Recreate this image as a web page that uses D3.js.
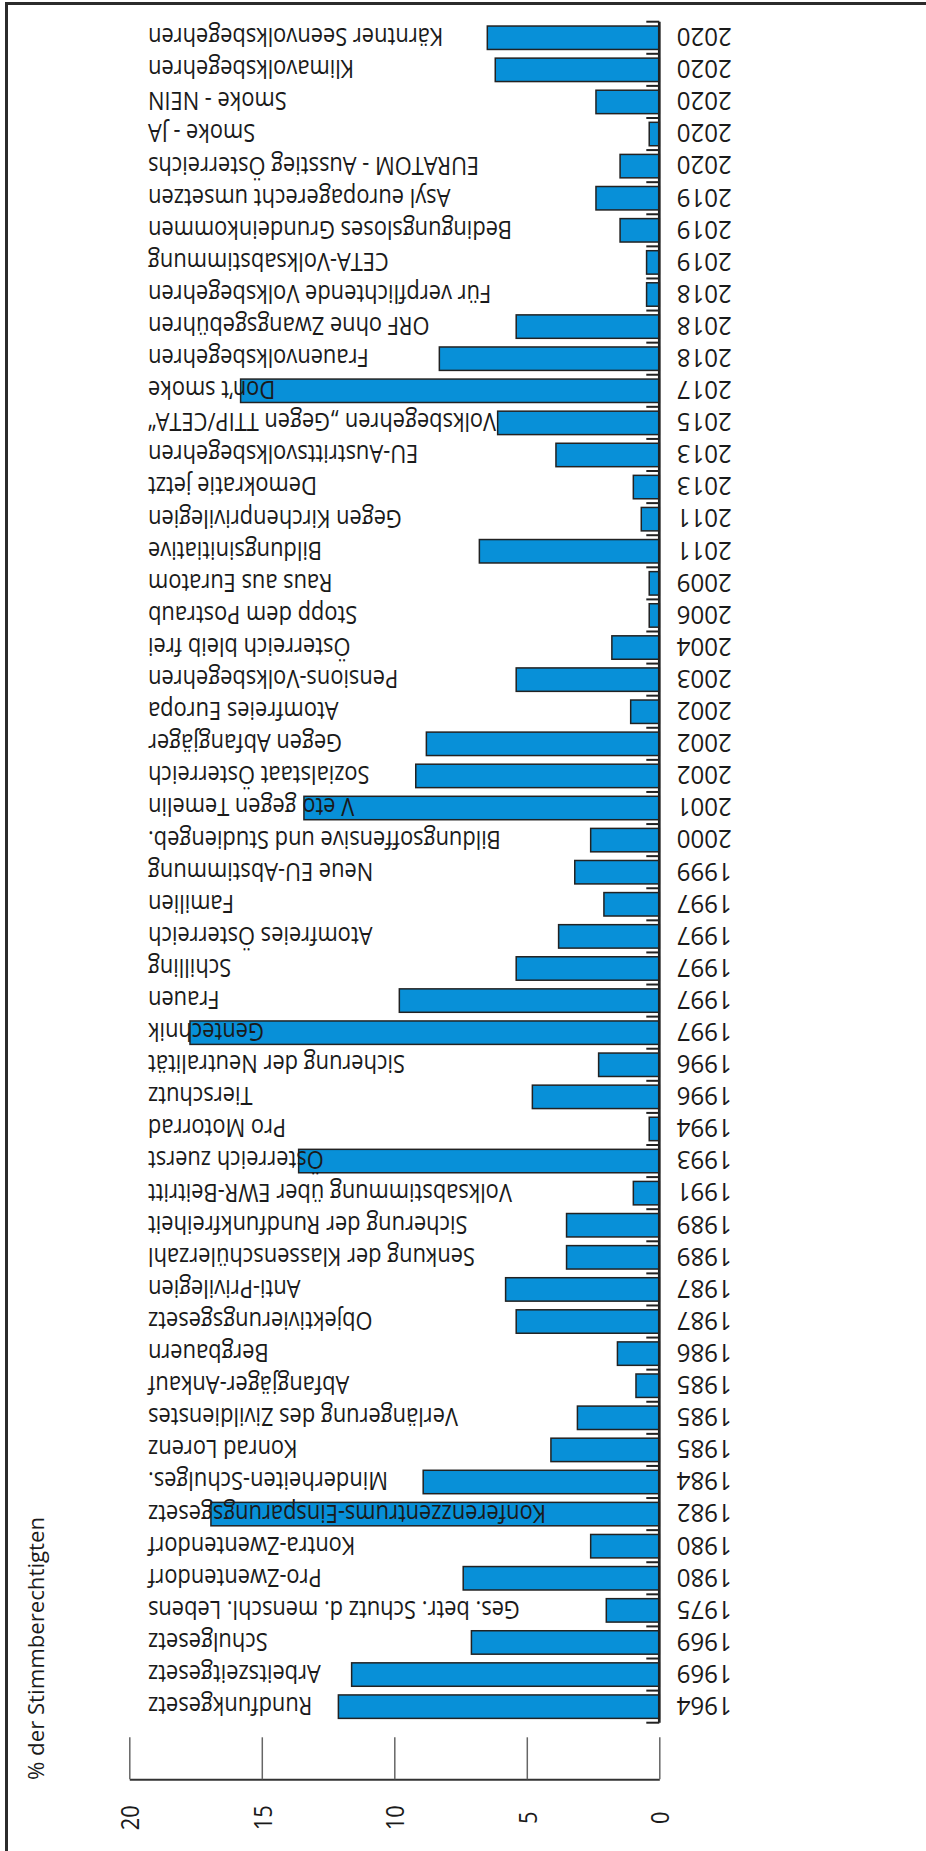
<!DOCTYPE html>
<html>
<head>
<meta charset="utf-8">
<script src="https://cdn.jsdelivr.net/npm/d3@7"></script>
<style>
    body { margin: 0; background: #fff; }
    svg { display: block; }
    text { font-family: "Open Sans", sans-serif; fill: #1a1a1a; }
</style>
</head>
<body>
<div id="chart"></div>
<script>
// Volksbegehren, oldest first (drawn from the bottom up)
var years = [1964, 1969, 1969, 1975, 1980, 1980, 1982, 1984, 1985, 1985, 1985, 1986, 1987, 1987,
    1989, 1989, 1991, 1993, 1994, 1996, 1996, 1997, 1997, 1997, 1997, 1997, 1999, 2000, 2001,
    2002, 2002, 2002, 2003, 2004, 2006, 2009, 2011, 2011, 2013, 2013, 2015, 2017, 2018, 2018,
    2018, 2019, 2019, 2019, 2020, 2020, 2020, 2020, 2020];

var names = ['Rundfunkgesetz', 'Arbeitszeitgesetz', 'Schulgesetz', 'Ges. betr. Schutz d. menschl. Lebens',
    'Pro-Zwentendorf', 'Kontra-Zwentendorf', 'Konferenzzentrums-Einsparungsgesetz', 'Minderheiten-Schulges.',
    'Konrad Lorenz', 'Verlängerung des Zivildienstes', 'Abfangjäger-Ankauf', 'Bergbauern',
    'Objektivierungsgesetz', 'Anti-Privilegien', 'Senkung der Klassenschülerzahl',
    'Sicherung der Rundfunkfreiheit', 'Volksabstimmung über EWR-Beitritt', 'Österreich zuerst',
    'Pro Motorrad', 'Tierschutz', 'Sicherung der Neutralität', 'Gentechnik', 'Frauen', 'Schilling',
    'Atomfreies Österreich', 'Familien', 'Neue EU-Abstimmung', 'Bildungsoffensive und Studiengeb.',
    'V eto gegen Temelin', 'Sozialstaat Österreich', 'Gegen Abfangjäger', 'Atomfreies Europa',
    'Pensions-Volksbegehren', 'Österreich bleib frei', 'Stopp dem Postraub', 'Raus aus Euratom',
    'Bildungsinitiative', 'Gegen Kirchenprivilegien', 'Demokratie jetzt', 'EU-Austrittsvolksbegehren',
    'Volksbegehren „Gegen TTIP/CETA“', 'Don’t smoke', 'Frauenvolksbegehren', 'ORF ohne Zwangsgebühren',
    'Für verpflichtende Volksbegehren', 'CETA-Volksabstimmung', 'Bedingungsloses Grundeinkommen',
    'Asyl europagerecht umsetzen', 'EURATOM - Ausstieg Österreichs', 'Smoke - JA', 'Smoke - NEIN',
    'Klimavolksbegehren', 'Kärntner Seenvolksbegehren'];

// % der Stimmberechtigten
var values = [12.11, 11.61, 7.09, 2.0, 7.4, 2.59, 16.92, 8.91, 4.09, 3.09, 0.88, 1.58, 5.4, 5.8,
    3.5, 3.5, 0.98, 13.61, 0.38, 4.79, 2.29, 17.71, 9.81, 5.4, 3.8, 2.09, 3.19, 2.59, 13.41,
    9.19, 8.79, 1.08, 5.4, 1.79, 0.38, 0.38, 6.79, 0.68, 0.98, 3.9, 6.1, 15.8, 8.3, 5.4,
    0.48, 0.48, 1.48, 2.39, 1.48, 0.38, 2.39, 6.19, 6.49];

var valueTicks = [0, 5, 10, 15, 20];
var axisTitle = '% der Stimmberechtigten';

var width = 926,
    height = 1851,
    fontSize = 25,
    condense = 0.875,
    yearCondense = 0.965;

var svg = d3.select('#chart').append('svg')
    .attr('width', width)
    .attr('height', height);

// frame (left and top edge only)
svg.append('path')
    .attr('d', 'M6.5,' + height + 'V3.5H' + width)
    .attr('fill', 'none')
    .attr('stroke', '#2b2b2b')
    .attr('stroke-width', 3);

var idx = d3.range(names.length);

// value runs right to left, 0 at the baseline
var x = d3.scaleLinear().domain([0, 20]).range([659.3, 129.3]);

// newest at the top
var y = d3.scaleBand()
    .domain(idx.slice().reverse())
    .range([21.7, 1722.7])
    .paddingInner(0.27)
    .paddingOuter(0.135);

var boundary = function (i) { return y(i) - y.step() * y.paddingInner() / 2; };

// bars
svg.append('g').selectAll('rect')
    .data(idx)
    .enter()
    .append('rect')
    .attr('x', function (i) { return x(values[i]); })
    .attr('y', function (i) { return y(i); })
    .attr('width', function (i) { return x(0) - x(values[i]); })
    .attr('height', y.bandwidth())
    .attr('fill', '#0890d8')
    .attr('stroke', '#222')
    .attr('stroke-width', 1.5);

// category ticks at the band boundaries
var bounds = idx.map(boundary).concat([y.range()[1]]);
svg.append('g').selectAll('line')
    .data(bounds)
    .enter()
    .append('line')
    .attr('x1', x(0) - 13)
    .attr('x2', x(0))
    .attr('y1', function (d) { return d; })
    .attr('y2', function (d) { return d; })
    .attr('stroke', '#222')
    .attr('stroke-width', 2);

// baseline
svg.append('line')
    .attr('x1', x(0)).attr('x2', x(0))
    .attr('y1', y.range()[0]).attr('y2', y.range()[1])
    .attr('stroke', '#222')
    .attr('stroke-width', 2.7);

// names (upside down), over the bars
svg.append('g').selectAll('text')
    .data(idx)
    .enter()
    .append('text')
    .attr('transform', function (i) {
        return 'translate(148,' + (y(i) + y.bandwidth() / 2) + ') rotate(180) scale(' + condense + ',1)';
    })
    .attr('text-anchor', 'end')
    .attr('dominant-baseline', 'central')
    .style('font-size', fontSize + 'px')
    .text(function (i) { return names[i]; });

// years (upside down), right of the baseline
svg.append('g').selectAll('text')
    .data(idx)
    .enter()
    .append('text')
    .attr('transform', function (i) {
        return 'translate(676.7,' + (y(i) + y.bandwidth() / 2) + ') rotate(180) scale(' + yearCondense + ',1)';
    })
    .attr('text-anchor', 'end')
    .attr('dominant-baseline', 'central')
    .style('font-size', fontSize + 'px')
    .text(function (i) { return years[i]; });

// value axis
var axis = d3.axisBottom(x)
    .tickValues(valueTicks)
    .tickSizeInner(-42)
    .tickSizeOuter(0)
    .tickFormat(d3.format('d'));

var axisG = svg.append('g')
    .attr('transform', 'translate(0,1779.3)')
    .call(axis);

axisG.select('.domain')
    .attr('stroke', '#333')
    .attr('stroke-width', 2);

axisG.selectAll('.tick line')
    .attr('stroke', '#666')
    .attr('stroke-width', 1.5);

axisG.selectAll('.tick text')
    .attr('y', null)
    .attr('dy', null)
    .attr('text-anchor', 'middle')
    .attr('dominant-baseline', 'central')
    .attr('transform', 'translate(0,38.5) rotate(-90) scale(' + condense + ',1)')
    .style('font-size', fontSize + 'px')
    .style('font-family', '"Open Sans", sans-serif')
    .attr('fill', '#1a1a1a');

// axis title, starting level with the value axis line
svg.append('text')
    .attr('transform', 'translate(35,1780) rotate(-90)')
    .attr('text-anchor', 'start')
    .attr('dominant-baseline', 'central')
    .attr('textLength', 263)
    .attr('lengthAdjust', 'spacingAndGlyphs')
    .style('font-size', '21.5px')
    .text(axisTitle);
</script>
</body>
</html>
